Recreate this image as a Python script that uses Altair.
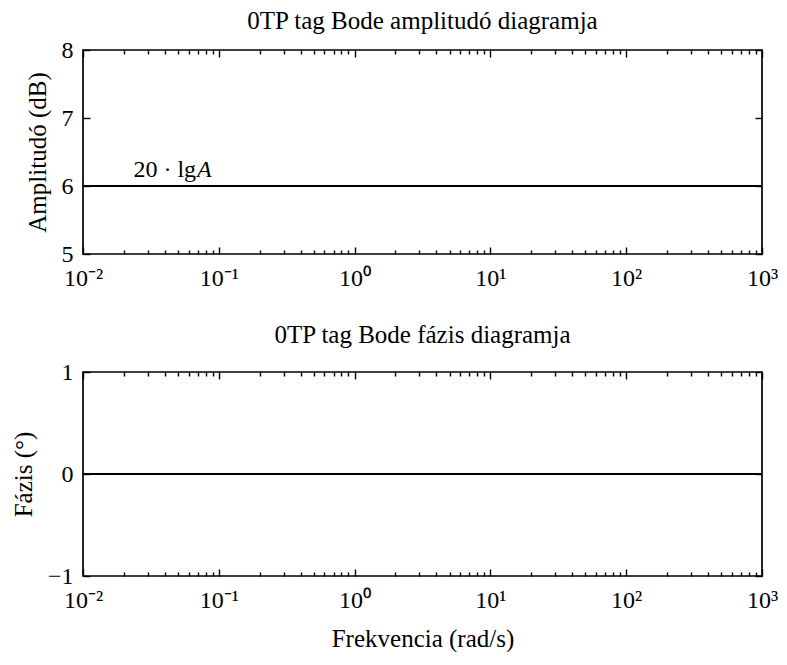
import altair as alt
import pandas as pd

# ---- data ----
freq = [0.01, 0.1, 1, 10, 100, 1000]
amplitude_db = [6, 6, 6, 6, 6, 6]
phase_deg = [0, 0, 0, 0, 0, 0]
major_x = [0.01, 0.1, 1, 10, 100, 1000]
minor_x = [m * d for d in [0.01, 0.1, 1, 10, 100] for m in range(2, 10)]
x_labels = ["10⁻²", "10⁻¹", "10⁰", "10¹", "10²", "10³"]
amp_ticks = [5, 6, 7, 8]
phase_ticks = [-1, 0, 1]
ann_x = [0.068]
ann_y = [6]

W, H = 679, 204
FONT = "Liberation Serif"
LBL = 24
TTL = 25
label_expr = "[" + ",".join(f"'{s}'" for s in x_labels) + "][round(log(datum.value)/LN10)+2]"
ylabel_expr = "datum.value < 0 ? '−' + abs(datum.value) : '' + datum.value"

df = pd.DataFrame({"f": freq, "amp": amplitude_db, "ph": phase_deg})
ann = pd.DataFrame({"f": ann_x, "y": ann_y})


def panel(yfield, ydom, yvals, title, ytitle, title_offset, xtitle=None, annotate=False):
    xs = alt.Scale(type="log", domain=[0.01, 1000], nice=False)
    ys = alt.Scale(domain=ydom, nice=False, zero=False)
    base = alt.Chart(df)
    xkw = dict(title=xtitle, titleFont=FONT, titleFontSize=TTL, titleFontWeight="normal",
               titleColor="black", titlePadding=14) if xtitle else dict(title=None)
    main = base.mark_line(color="black", strokeWidth=2.2).encode(
        x=alt.X("f:Q", scale=xs, axis=alt.Axis(values=major_x, labelExpr=label_expr, ticks=False,
                                               domain=False, grid=False, labelFont=FONT,
                                               labelFontSize=LBL, labelColor="black",
                                               labelPadding=12, labelFlush=False,
                                               labelOverlap=False, **xkw)),
        y=alt.Y(f"{yfield}:Q", scale=ys,
                axis=alt.Axis(values=yvals, ticks=False, domain=False, grid=False, labelFont=FONT,
                              labelFontSize=LBL, labelColor="black", labelPadding=10,
                              labelFlush=False, labelOverlap=False, labelExpr=ylabel_expr,
                              title=ytitle, titleFont=FONT, titleFontSize=TTL,
                              titleFontWeight="normal", titleColor="black", titlePadding=11)),
    )

    def tick_layer(xvals, xsize, xorient, yorient=None):
        enc = dict(
            x=alt.X("f:Q", scale=xs, axis=alt.Axis(orient=xorient, offset=-H, values=xvals,
                                                   tickSize=xsize, tickColor="black", tickWidth=1.4,
                                                   labels=False, domain=False, grid=False,
                                                   title=None, zindex=1)),
        )
        if yorient:
            enc["y"] = alt.Y(f"{yfield}:Q", scale=ys,
                             axis=alt.Axis(orient=yorient, offset=-W, values=yvals, tickSize=7,
                                           tickColor="black", tickWidth=1.4, labels=False,
                                           domain=False, grid=False, title=None, zindex=1))
        else:
            enc["y"] = alt.Y(f"{yfield}:Q", scale=ys, axis=None)
        return base.mark_line(opacity=0).encode(**enc)

    layers = [
        main,
        tick_layer(major_x, 7, "top", "right"),
        tick_layer(major_x, 7, "bottom", "left"),
        tick_layer(minor_x, 4, "top"),
        tick_layer(minor_x, 4, "bottom"),
    ]
    if annotate:
        t1 = alt.Chart(ann).mark_text(text="20 · lg", font=FONT, fontSize=LBL, align="right",
                                      baseline="alphabetic", dy=-9, color="black").encode(
            x=alt.X("f:Q", scale=xs, axis=None), y=alt.Y("y:Q", scale=ys, axis=None))
        t2 = alt.Chart(ann).mark_text(text="A", font=FONT, fontSize=LBL, fontStyle="italic",
                                      align="left", baseline="alphabetic", dy=-9, dx=1,
                                      color="black").encode(
            x=alt.X("f:Q", scale=xs, axis=None), y=alt.Y("y:Q", scale=ys, axis=None))
        layers += [t1, t2]
    return alt.layer(*layers).resolve_axis(x="independent", y="independent").properties(
        width=W, height=H,
        title=alt.TitleParams(title, font=FONT, fontSize=TTL, fontWeight="normal",
                              color="black", offset=title_offset),
    )


top = panel("amp", [5, 8], amp_ticks, "0TP tag Bode amplitudó diagramja", "Amplitudó (dB)",
            4, annotate=True)
bottom = panel("ph", [-1, 1], phase_ticks, "0TP tag Bode fázis diagramja", "Fázis (°)",
               12, xtitle="Frekvencia (rad/s)")

chart = alt.vconcat(top, bottom, spacing=31).properties(
    padding={"left": 2, "top": 0, "right": 0, "bottom": 0}
).configure_view(stroke="black", strokeWidth=1.7)

chart.save("out.html", embed_options={"renderer": "svg", "actions": False})
